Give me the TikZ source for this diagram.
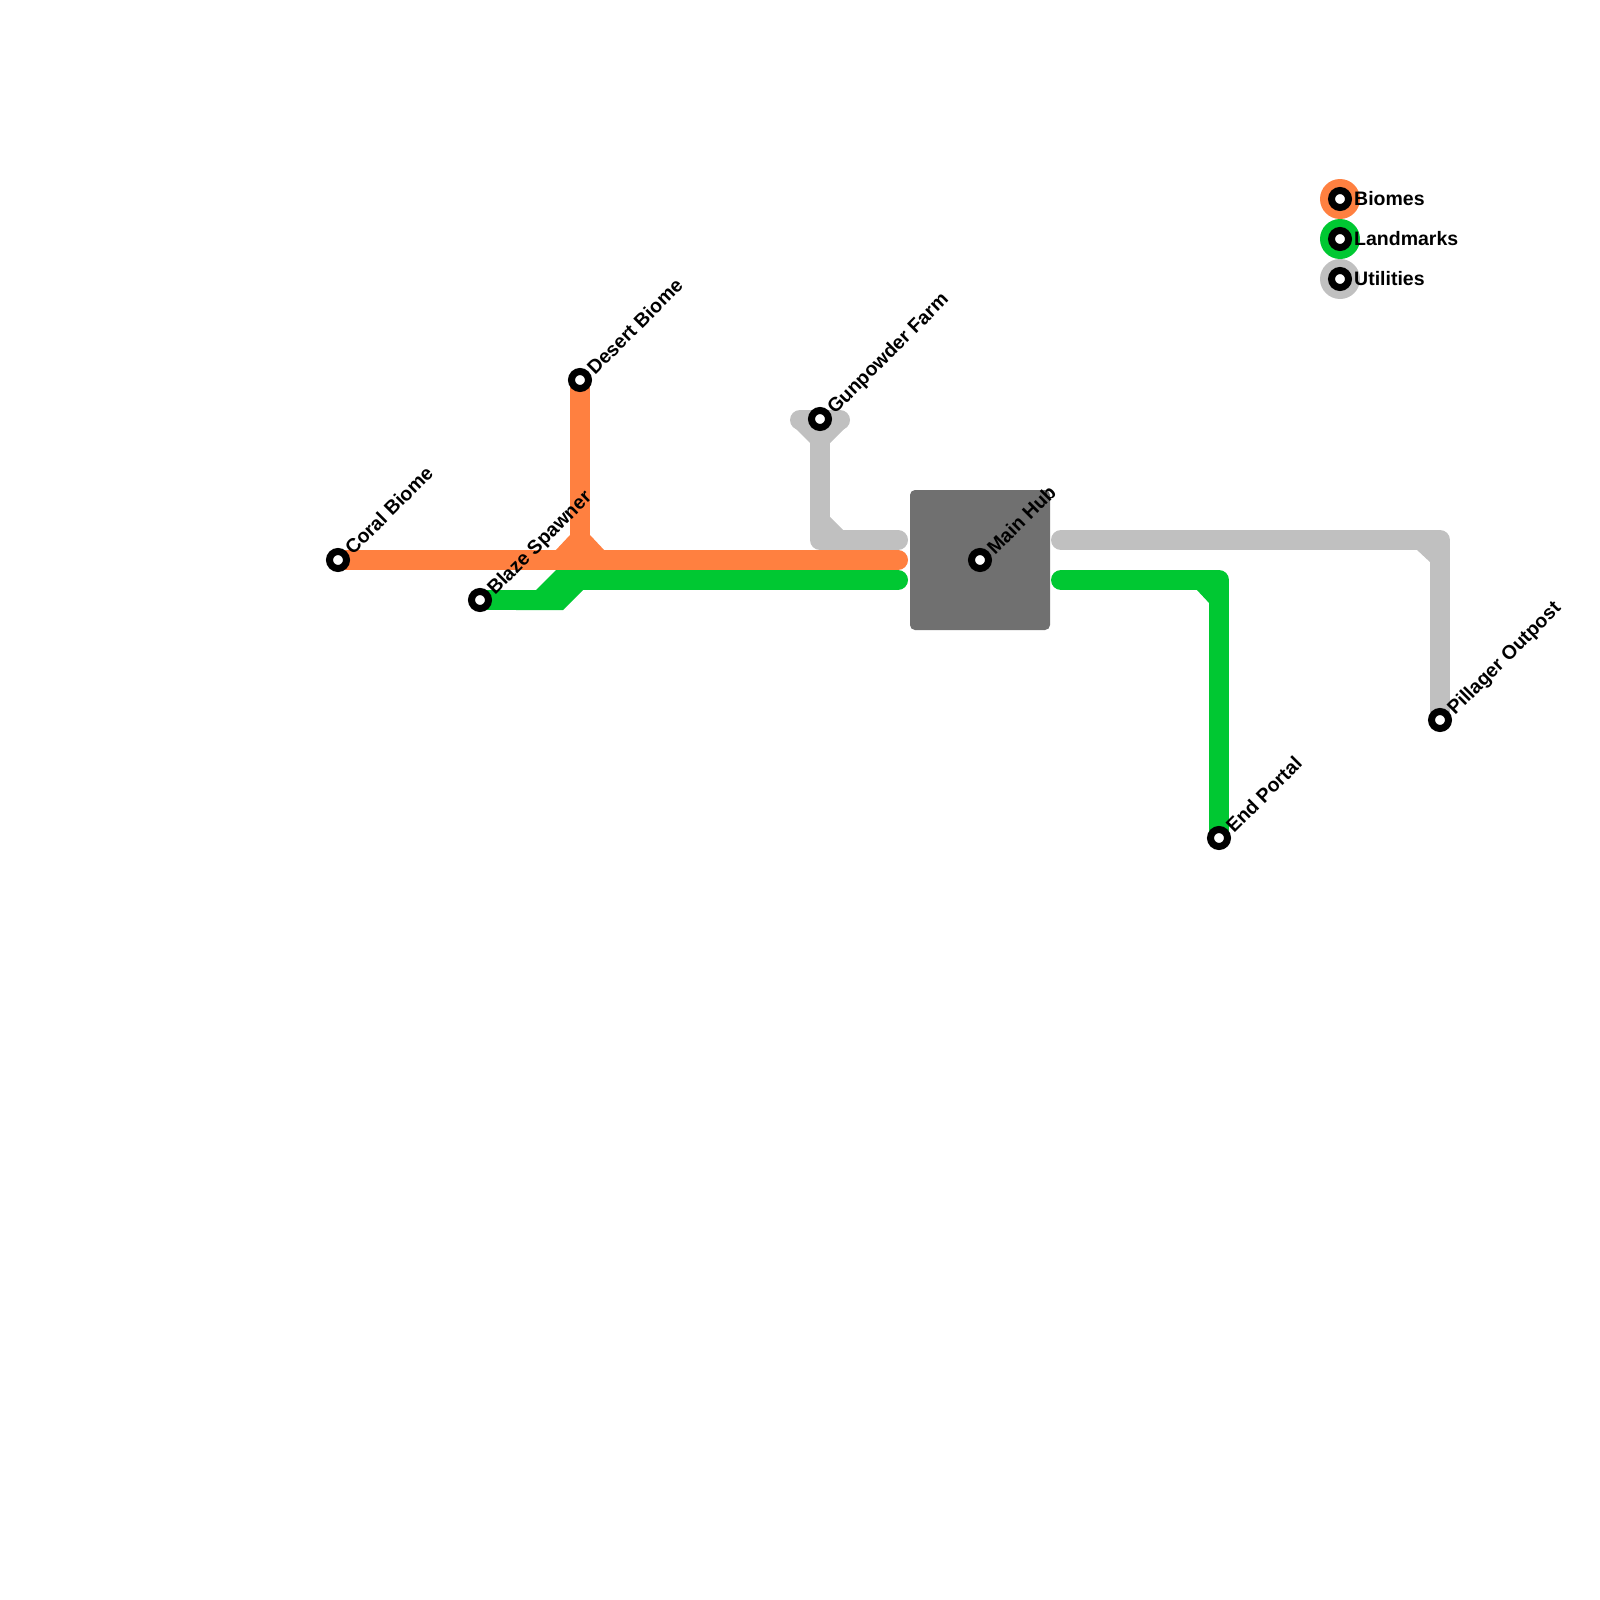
\documentclass[tikz,border=0pt]{standalone}
\usepackage{fontspec}
\setmainfont{Liberation Sans}
\usetikzlibrary{calc}
\definecolor{biomeorange}{RGB}{255,128,64}
\definecolor{landgreen}{RGB}{0,200,50}
\definecolor{utilgray}{RGB}{192,192,192}
\definecolor{hubgray}{RGB}{112,112,112}
\begin{document}
\begin{tikzpicture}[x=1pt,y=-1pt,
        biomes/.style={draw=biomeorange,line width=20pt,line cap=round,line join=round},
        landmarks/.style={draw=landgreen,line width=20pt,line cap=round,line join=round},
        utilities/.style={draw=utilgray,line width=20pt,line cap=round,line join=round},
        station/.style={circle,draw=black,fill=white,line width=7pt,minimum size=17pt,inner sep=0pt},
        lbl/.style={rotate=45,anchor=base west,inner sep=0pt,
          font=\bfseries\fontsize{19.5}{23}\selectfont},
        keytext/.style={anchor=west,inner sep=0pt,font=\bfseries\fontsize{19.5}{23}\selectfont},
        keydisc/.style={circle,inner sep=0pt,minimum size=40pt},
        hubbox/.style={fill=hubgray,rounded corners=5pt,minimum size=140pt,inner sep=0pt}]
        \fill[white] (0,0) rectangle (1600,1600);
        \useasboundingbox (0,0) rectangle (1600,1600);

        \coordinate (coral) at (338,560);
        \coordinate (desert) at (580,380);
        \coordinate (blaze) at (480,600);
        \coordinate (gunpowder) at (820,419);
        \coordinate (mainhub) at (980,560);
        \coordinate (endportal) at (1219,838);
        \coordinate (pillager) at (1440,720);
        \coordinate (orangeW) at (898,560);
        \coordinate (greenW) at (898,580);
        \coordinate (grayW) at (898,540);
        \coordinate (grayE) at (1061,540);
        \coordinate (greenE) at (1061,580);

        \node[hubbox] (hub) at (mainhub) {};

        % Biomes
        \draw[biomes] (coral) -- (orangeW);
        \draw[biomes] (desert) -- (desert |- coral);
        \fill[biomeorange] (570,535) -- (570,551) -- (555,551) -- cycle;
        \fill[biomeorange] (590,535) -- (590,551) -- (605,551) -- cycle;

        % Landmarks
        \draw[landmarks] (blaze) -- (540,600);
        \fill[landgreen] (556,570) -- (603,570) -- (563,610) -- (516,610) -- cycle;
        \draw[landmarks] (570,580) -- (greenW);
        \draw[landmarks] (greenE) -- (endportal |- greenE) -- (endportal);
        \fill[landgreen] (1196,589) -- (1210,589) -- (1210,604) -- cycle;

        % Utilities
        \draw[utilities] (800,420) -- (840,420);
        \fill[utilgray] (792,425) -- (848,425) -- (830,443) -- (810,443) -- cycle;
        \draw[utilities] (gunpowder) -- (gunpowder |- grayW) -- (grayW);
        \fill[utilgray] (829,516) -- (829,531) -- (844,531) -- cycle;
        \draw[utilities] (grayE) -- (pillager |- grayE) -- (pillager);
        \fill[utilgray] (1416,549) -- (1431,549) -- (1431,563) -- cycle;

        \foreach \p/\t in {coral/Coral Biome, desert/Desert Biome, blaze/Blaze Spawner,
            gunpowder/Gunpowder Farm, mainhub/Main Hub, endportal/End Portal,
            pillager/Pillager Outpost} {
          \node[station] (\p-stn) at (\p) {};
          \node[lbl] (\p-lbl) at ($(\p)+(15,-4)$) {\t};
        }

        \foreach \c/\t [count=\i] in {biomeorange/Biomes, landgreen/Landmarks, utilgray/Utilities} {
          \node[keydisc,fill=\c] (key\i) at (1340,159+40*\i) {};
          \node[station] (key\i-stn) at (key\i) {};
          \node[keytext] (key\i-txt) at (1354,159+40*\i) {\t};
        }
      \end{tikzpicture}
\end{document}
